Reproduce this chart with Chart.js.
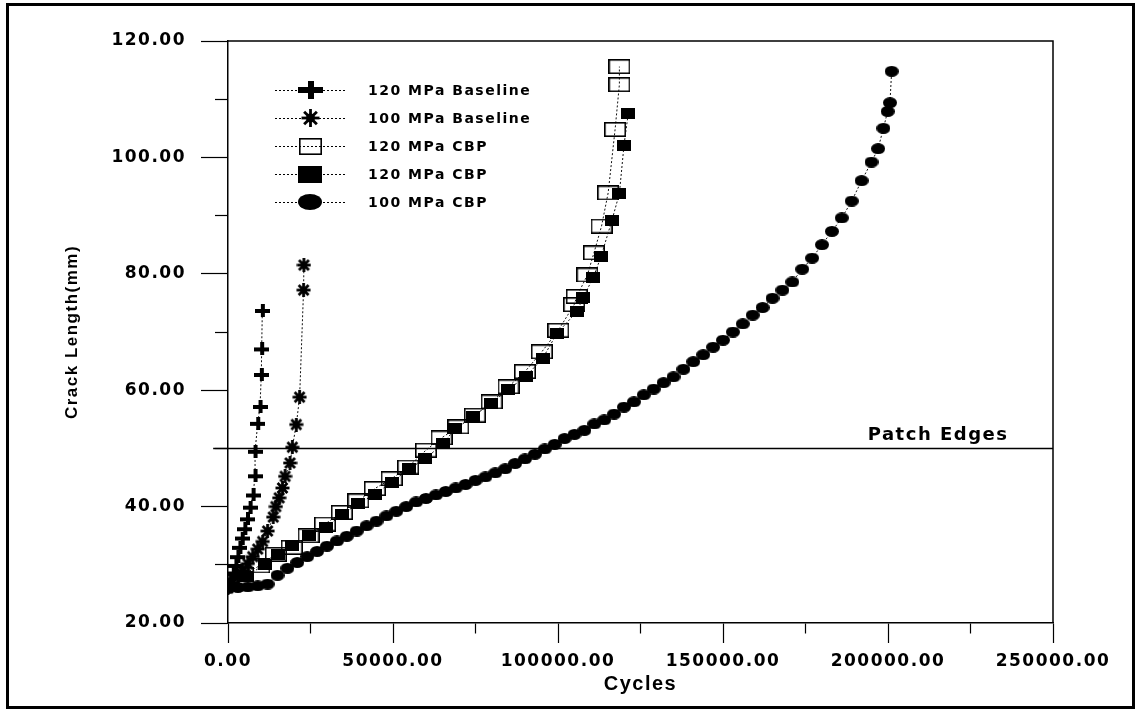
<!DOCTYPE html>
<html>
<head>
<meta charset="utf-8">
<script src="https://cdn.jsdelivr.net/npm/chart.js@4.4.0/dist/chart.umd.min.js"></script>
<style>
  html, body { margin: 0; padding: 0; background: #fff; }
  #wrap { position: relative; width: 1138px; height: 723px; }
  #crackChart { position: absolute; left: 0; top: 0; }
  #frame { position: absolute; left: 6px; top: 3px; width: 1123px; height: 700px; border: 3px solid #000; pointer-events: none; }
</style>
</head>
<body>
<div id="wrap">
  <canvas id="crackChart" width="1138" height="723"></canvas>
  <div id="frame"></div>
</div>
<script>
// series names (legend order)
var names = ['120 MPa Baseline', '100 MPa Baseline', '120 MPa CBP', '120 MPa CBP', '100 MPa CBP'];

// 120 MPa baseline (plus)
var base120Cycles = [0, 800, 1600, 2400, 3000, 3600, 4300, 5100, 5900, 6700, 7600, 8200, 8200, 9000, 9700, 10100, 10200, 10400];
var base120Length = [26.3, 27.4, 28.6, 29.9, 31.4, 33.0, 34.6, 36.2, 37.9, 39.9, 42.0, 45.3, 49.5, 54.3, 57.2, 62.7, 67.1, 73.7];

// 100 MPa baseline (star)
var base100Cycles = [0, 1500, 3000, 4500, 6000, 7500, 9000, 10500, 12000, 13700, 14500, 15500, 16500, 17300, 18800, 19500, 20700, 21700, 22900, 23000];
var base100Length = [26.0, 27.0, 28.0, 29.0, 30.2, 31.4, 32.7, 34.0, 35.8, 38.2, 40.0, 41.5, 43.2, 45.2, 47.5, 50.2, 54.1, 58.8, 77.2, 81.5];

// 120 MPa CBP (open squares)
var cbpOpenCycles = [0, 4500, 9500, 14500, 19300, 24400, 29400, 34500, 39500, 44500, 49600, 54600, 60000, 64700, 69800, 74800, 79900, 85000, 90000, 95100, 100100, 104900, 105700, 108900, 110900, 113200, 115200, 117300, 118600, 118600];
var cbpOpenLength = [27.0, 28.3, 29.8, 31.8, 33.0, 35.0, 37.0, 39.0, 41.0, 43.1, 44.8, 46.8, 49.7, 51.8, 53.7, 55.7, 58.0, 60.6, 63.2, 66.6, 70.3, 74.7, 76.1, 79.8, 83.6, 88.2, 93.9, 104.8, 112.5, 115.6];

// 120 MPa CBP (filled squares)
var cbpFillCycles = [0, 5500, 11200, 15000, 19500, 24500, 29600, 34600, 39500, 44500, 49600, 54800, 59700, 65200, 68800, 74300, 79600, 84900, 90300, 95400, 99600, 105700, 107700, 110700, 113000, 116300, 118600, 120000, 121300];
var cbpFillLength = [26.5, 28.0, 30.1, 31.8, 33.3, 35.0, 36.4, 38.7, 40.5, 42.1, 44.2, 46.5, 48.2, 50.8, 53.4, 55.5, 57.7, 60.1, 62.4, 65.5, 69.7, 73.5, 76.0, 79.4, 82.9, 89.1, 93.8, 102.1, 107.6];

// 100 MPa CBP (filled circles)
var cbp100Cycles = [0, 3000, 6000, 9000, 12000, 15000, 18000, 21000, 24000, 27000, 30000, 33000, 36000, 39000, 42000, 45000, 48000, 51000, 54000, 57000,
  60000, 63000, 66000, 69000, 72000, 75000, 78000, 81000, 84000, 87000, 90000, 93000, 96000, 99000, 102000, 105000, 108000, 111000, 114000, 117000,
  120000, 123000, 126000, 129000, 132000, 135000, 138000, 141000, 144000, 147000, 150000, 153000, 156000, 159000, 162000, 165000, 168000, 171000, 174000, 177000,
  180000, 183000, 186000, 189000, 192000, 195000, 197000, 198600, 199900, 200600, 201100];
var cbp100Length = [26.0, 26.1, 26.2, 26.4, 26.7, 28.2, 29.4, 30.4, 31.4, 32.3, 33.2, 34.1, 34.9, 35.8, 36.7, 37.5, 38.4, 39.2, 40.0, 40.8,
  41.4, 42.0, 42.6, 43.2, 43.8, 44.5, 45.1, 45.8, 46.5, 47.4, 48.2, 49.0, 49.9, 50.7, 51.7, 52.4, 53.1, 54.2, 54.9, 55.9,
  57.1, 58.0, 59.2, 60.2, 61.3, 62.3, 63.6, 64.9, 66.1, 67.4, 68.6, 70.0, 71.4, 72.9, 74.2, 75.8, 77.2, 78.6, 80.8, 82.7,
  85.0, 87.3, 89.6, 92.5, 96.0, 99.2, 101.5, 105.0, 107.9, 109.4, 114.8];

// patch edge reference line
var patchCycles = [-4500, 250000];
var patchLength = [50, 50];

function series(xs, ys) {
  return xs.map(function(x, i) { return {x: x, y: ys[i]}; });
}

function makeMarker(kind, w, h) {
  var c = document.createElement('canvas');
  c.width = w; c.height = h;
  var g = c.getContext('2d');
  g.fillStyle = '#000';
  g.strokeStyle = '#000';
  if (kind === 'plus') {
    var t = Math.round(h * 0.33);
    g.fillRect(0, Math.round(h / 2 - t / 2), w, t);
    g.fillRect(Math.round(w / 2 - t / 2), 0, t, h);
  } else if (kind === 'star') {
    g.lineWidth = 2.8;
    var cx = w / 2, cy = h / 2, r = Math.min(w, h) / 2;
    for (var a = 0; a < 4; a++) {
      var ang = a * Math.PI / 4;
      g.beginPath();
      g.moveTo(cx - Math.cos(ang) * r, cy - Math.sin(ang) * r);
      g.lineTo(cx + Math.cos(ang) * r, cy + Math.sin(ang) * r);
      g.stroke();
    }
    g.beginPath();
    g.arc(cx, cy, r * 0.5, 0, Math.PI * 2);
    g.fill();
  } else if (kind === 'open') {
    g.lineWidth = 1.6;
    g.strokeRect(0.8, 0.8, w - 1.6, h - 1.6);
  } else if (kind === 'filled') {
    g.fillRect(0, 0, w, h);
  } else {
    g.beginPath();
    g.ellipse(w / 2, h / 2, w / 2, h / 2, 0, 0, Math.PI * 2);
    g.fill();
  }
  return c;
}

var markers = [makeMarker('plus', 15, 13), makeMarker('star', 15, 14), makeMarker('open', 22, 15), makeMarker('filled', 14, 11), makeMarker('circle', 14, 11)];
var legendMarkers = [makeMarker('plus', 25, 18), makeMarker('star', 19, 18), makeMarker('open', 23, 17), makeMarker('filled', 24, 17), makeMarker('circle', 24, 16)];

var seriesData = [
  series(base120Cycles, base120Length),
  series(base100Cycles, base100Length),
  series(cbpOpenCycles, cbpOpenLength),
  series(cbpFillCycles, cbpFillLength),
  series(cbp100Cycles, cbp100Length)
];

var datasets = seriesData.map(function(d, i) {
  return {
    label: names[i],
    data: d,
    showLine: true,
    borderColor: '#111',
    borderWidth: 1,
    borderDash: [2, 2],
    backgroundColor: 'transparent',
    pointStyle: markers[i],
    pointRadius: 6,
    order: i === 3 ? 0 : i + 1
  };
});
datasets.push({
  label: 'Patch Edges',
  data: series(patchCycles, patchLength),
  showLine: true,
  borderColor: '#000',
  borderWidth: 1.5,
  pointRadius: 0,
  clip: false,
  order: 10
});

var tickFont = {family: 'DejaVu Sans', size: 17, weight: 'bold'};

var decorPlugin = {
  id: 'decor',
  beforeDraw: function(chart) {
    chart.ctx.letterSpacing = '1.5px';
  },
  afterDraw: function(chart) {
    var ctx = chart.ctx, area = chart.chartArea;
    var xs = chart.scales.x, ys = chart.scales.y;
    ctx.save();
    // top and right frame of the plot
    ctx.strokeStyle = '#000';
    ctx.lineWidth = 1.5;
    ctx.beginPath();
    ctx.moveTo(area.left, area.top);
    ctx.lineTo(area.right, area.top);
    ctx.lineTo(area.right, area.bottom);
    ctx.stroke();

    // patch edge label
    ctx.fillStyle = '#000';
    ctx.font = 'bold 18px "DejaVu Sans"';
    ctx.textAlign = 'right';
    ctx.textBaseline = 'alphabetic';
    ctx.fillText('Patch Edges', xs.getPixelForValue(236500), ys.getPixelForValue(50) - 8);

    // legend
    ctx.font = 'bold 14px "DejaVu Sans"';
    ctx.textAlign = 'left';
    ctx.textBaseline = 'middle';
    for (var i = 0; i < names.length; i++) {
      var y = 90 + i * 28;
      ctx.save();
      ctx.setLineDash([2, 2]);
      ctx.lineWidth = 1;
      ctx.beginPath();
      ctx.moveTo(275, y + 0.5);
      ctx.lineTo(346, y + 0.5);
      ctx.stroke();
      ctx.restore();
      var m = legendMarkers[i];
      ctx.drawImage(m, Math.round(310 - m.width / 2), Math.round(y - m.height / 2));
      ctx.fillText(names[i], 368, y + 1);
    }
    ctx.restore();
  }
};

var context = document.getElementById('crackChart').getContext('2d');
var crackChart = new Chart(context, {
  type: 'scatter',
  data: {datasets: datasets},
  options: {
    responsive: false,
    animation: false,
    layout: {padding: {left: 0, top: 41, right: 85, bottom: 0}},
    plugins: {
      legend: {display: false},
      tooltip: {enabled: false}
    },
    scales: {
      x: {
        type: 'linear',
        position: 'bottom',
        min: 0,
        max: 250000,
        title: {
          display: true,
          text: 'Cycles',
          color: '#000',
          font: {family: 'Liberation Sans', size: 20, weight: 'bold'},
          padding: {top: 0, bottom: 27}
        },
        ticks: {
          stepSize: 25000,
          autoSkip: false,
          maxRotation: 0,
          color: '#000',
          font: tickFont,
          padding: 8,
          callback: function(v) { return v % 50000 === 0 ? v.toFixed(2) : ''; }
        },
        grid: {
          drawOnChartArea: false,
          tickLength: 20,
          tickColor: '#000',
          tickWidth: 1.2,
          tickBorderDash: function(c) { return c.tick && c.tick.value % 50000 !== 0 ? [10, 100] : []; }
        },
        border: {color: '#000', width: 1.5},
        afterFit: function(s) { s.height = 100; }
      },
      y: {
        type: 'linear',
        position: 'left',
        min: 20,
        max: 120,
        title: {
          display: true,
          text: 'Crack Length(mm)',
          color: '#000',
          font: {family: 'Liberation Sans', size: 17, weight: 'bold'},
          padding: {top: 62, bottom: 0}
        },
        ticks: {
          stepSize: 10,
          autoSkip: false,
          color: '#000',
          font: tickFont,
          padding: 15,
          callback: function(v) { return v % 20 === 0 ? v.toFixed(2) : ''; }
        },
        grid: {
          drawOnChartArea: false,
          tickLength: 27,
          tickColor: '#000',
          tickWidth: 1.2,
          tickBorderDash: function(c) { return c.tick && c.tick.value % 20 !== 0 ? [14, 100] : []; },
          tickBorderDashOffset: function(c) { return c.tick && c.tick.value % 20 !== 0 ? 100 : 0; }
        },
        border: {color: '#000', width: 1.5},
        afterFit: function(s) { s.width = 228; }
      }
    }
  },
  plugins: [decorPlugin]
});
</script>
</body>
</html>
